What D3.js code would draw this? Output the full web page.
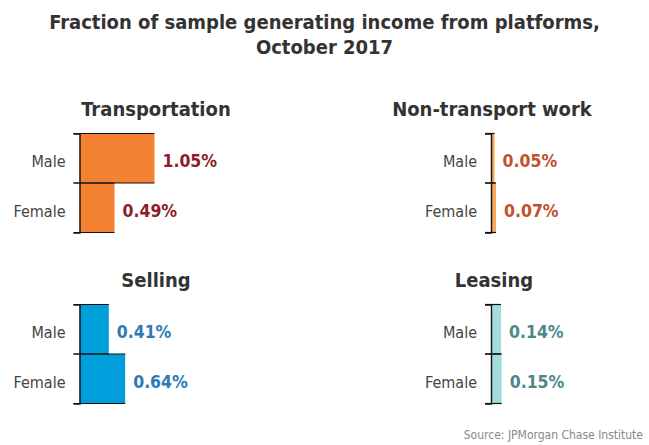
<!DOCTYPE html>
<html>
<head>
<meta charset="utf-8">
<script src="https://cdn.jsdelivr.net/npm/d3@7"></script>
<style>
  html, body { margin: 0; padding: 0; background: #fff; }
  svg { display: block; font-family: "DejaVu Sans Condensed", "Liberation Sans Narrow", sans-serif; }
</style>
</head>
<body>
<svg id="chart" width="649" height="445"></svg>
<script>
// Share of sample earning platform income, by platform type and gender
const genders = ["Male", "Female"];
const panels = ["Transportation", "Non-transport work", "Selling", "Leasing"];
const transportation = [1.05, 0.49];
const nonTransport = [0.05, 0.07];
const selling = [0.41, 0.64];
const leasing = [0.14, 0.15];
const fillColors = ["#F58232", "#F9A85A", "#009EDB", "#A3DCDD"];
const textColors = ["#8C1D28", "#C0512A", "#2C7AB8", "#4D8787"];

const title = ["Fraction of sample generating income from platforms,", "October 2017"];
const source = "Source: JPMorgan Chase Institute";

const seriesByPanel = [transportation, nonTransport, selling, leasing];

const svg = d3.select("#chart");
const W = 649;

// Title
const t = svg.append("text")
  .attr("text-anchor", "middle")
  .attr("font-size", 20)
  .attr("font-weight", "bold")
  .attr("fill", "#333");
title.forEach((line, i) => {
  t.append("tspan").attr("x", W / 2).attr("y", 29 + i * 25).text(line);
});

// Shared value scale so bar lengths are comparable across panels
const x = d3.scaleLinear().domain([0, 1]).range([0, 71.4]);

// Panel layout: axis position, band top, title centre
const layout = [
  { ax: 79.5, top: 133.5, cx: 156 },
  { ax: 491, top: 133.5, cx: 492 },
  { ax: 79.5, top: 304.5, cx: 156 },
  { ax: 491, top: 304.5, cx: 494 }
];

panels.forEach((name, p) => {
  const L = layout[p];
  const values = seriesByPanel[p];
  const data = genders.map((g, i) => ({ g, v: values[i] }));

  const y = d3.scaleBand().domain(genders).range([0, 99]).padding(0);

  svg.append("text")
    .attr("x", L.cx)
    .attr("y", L.top - 18)
    .attr("text-anchor", "middle")
    .attr("font-size", 20)
    .attr("font-weight", "bold")
    .attr("fill", "#333")
    .text(name);

  const g = svg.append("g").attr("transform", `translate(${L.ax},${L.top})`);

  g.selectAll("rect.bar").data(data).join("rect")
    .attr("class", "bar")
    .attr("x", 0)
    .attr("y", d => y(d.g))
    .attr("width", d => x(d.v))
    .attr("height", y.bandwidth())
    .attr("fill", fillColors[p]);

  // Band edge rules that run from the tick out along each bar
  const edges = [];
  data.forEach(d => {
    edges.push({ y: y(d.g), w: x(d.v) });
    edges.push({ y: y(d.g) + y.bandwidth(), w: x(d.v) });
  });
  g.selectAll("line.edge").data(edges).join("line")
    .attr("class", "edge")
    .attr("x1", -6).attr("x2", d => d.w)
    .attr("y1", d => d.y).attr("y2", d => d.y)
    .attr("stroke", "#111").attr("stroke-width", 1.2);

  const axis = g.append("g")
    .call(d3.axisLeft(y).tickSize(0).tickPadding(14).tickSizeOuter(6))
    .attr("font-family", null)
    .attr("font-size", null);
  axis.select(".domain").attr("stroke", "#111").attr("stroke-width", 1.4);
  axis.selectAll(".tick text")
    .attr("font-size", 16)
    .attr("fill", "#444")
    .attr("dy", "0.55em");

  g.selectAll("text.val").data(data).join("text")
    .attr("class", "val")
    .attr("x", d => x(d.v) + 8)
    .attr("y", d => y(d.g) + y.bandwidth() / 2)
    .attr("dy", "0.52em")
    .attr("font-size", 17.5)
    .attr("font-weight", "bold")
    .attr("fill", textColors[p])
    .text(d => d.v.toFixed(2) + "%");
});

svg.append("text")
  .attr("x", 643)
  .attr("y", 439)
  .attr("text-anchor", "end")
  .attr("font-size", 12)
  .attr("fill", "#888")
  .text(source);
</script>
</body>
</html>
